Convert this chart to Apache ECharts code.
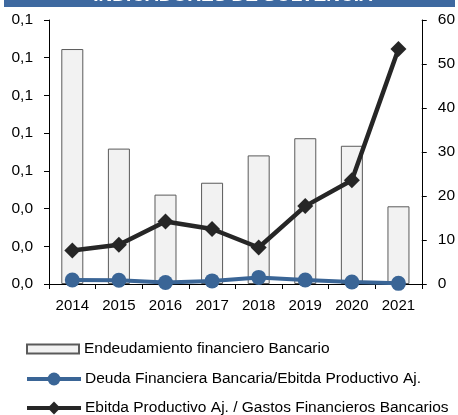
<!DOCTYPE html>
<html>
<head>
<meta charset="utf-8">
<script src="https://cdn.jsdelivr.net/npm/echarts@6/dist/echarts.min.js"></script>
<style>
html,body{margin:0;padding:0;background:#fff;}
#c{width:458px;height:415px;}
</style>
</head>
<body>
<div id="c"></div>
<script>
var titleText = "INDICADORES DE SOLVENCIA";
var years = ["2014","2015","2016","2017","2018","2019","2020","2021"];
var endeudamiento = [0.1246, 0.0718, 0.0474, 0.0537, 0.0682, 0.0773, 0.0733, 0.0412];
var deudaEbitda = [0.9, 0.85, 0.35, 0.7, 1.5, 0.9, 0.45, 0.15];
var ebitdaGastos = [7.6, 8.9, 14.2, 12.5, 8.3, 17.7, 23.6, 53.4];
var seriesNames = ["Endeudamiento financiero Bancario", "Deuda Financiera Bancaria/Ebitda Productivo Aj.", "Ebitda Productivo Aj. / Gastos Financieros Bancarios"];

var FONT = '"Liberation Sans", Arial, sans-serif';
var BLUE = '#3A6596';
var DARK = '#262626';

var chart = echarts.init(document.getElementById('c'), null, {renderer: 'canvas'});
function legendAt(name, left, top, w, h, gap, lineW, icon) {
  var l = {
    data: [name], left: left, top: top, itemWidth: w, itemHeight: h, itemGap: 4,
    selectedMode: false, padding: 0,
    textStyle: {fontFamily: FONT, fontSize: 15.5, color: '#000', padding: [0,0,0,gap - 5]}
  };
  if (lineW) { l.lineStyle = {width: lineW}; }
  if (icon) { l.icon = icon; }
  return l;
}
chart.setOption({
  animation: false,
  textStyle: {fontFamily: FONT},
  graphic: [
    {type: 'rect', shape: {x: 4, y: -20, width: 451, height: 27}, style: {fill: '#3E69A0'}, z: 10},
    {type: 'text', x: 233, y: -14, style: {text: titleText, fill: '#fff', font: 'bold 19px ' + FONT, textAlign: 'center', textVerticalAlign: 'top'}, z: 11}
  ],
  legend: [
    legendAt(seriesNames[0], 26, 341, 52, 9, 5, 0, 'rect'),
    legendAt(seriesNames[1], 25, 371, 54, 16, 4, 4, null),
    legendAt(seriesNames[2], 25, 400, 54, 16, 4, 4, null)
  ],
  grid: {left: 49, right: 35, top: 20, bottom: 131, containLabel: false},
  xAxis: {
    type: 'category', data: years, boundaryGap: true,
    axisLine: {lineStyle: {color: '#000', width: 1}},
    axisTick: {show: true, length: 5, lineStyle: {color: '#000'}},
    axisLabel: {color: '#000', fontSize: 15, fontFamily: FONT, margin: 14, interval: 0}
  },
  yAxis: [
    {
      type: 'value', min: 0, max: 0.14, interval: 0.02, position: 'left',
      splitLine: {show: false},
      axisLine: {show: true, lineStyle: {color: '#000'}},
      axisTick: {show: true, length: 5, lineStyle: {color: '#000'}},
      axisLabel: {color: '#000', fontSize: 15.5, fontFamily: FONT, margin: 16,
        formatter: function (v) { return v.toFixed(1).replace('.', ','); }}
    },
    {
      type: 'value', min: 0, max: 60, interval: 10, position: 'right',
      splitLine: {show: false},
      axisLine: {show: true, lineStyle: {color: '#000'}},
      axisTick: {show: true, length: 5, lineStyle: {color: '#000'}},
      axisLabel: {color: '#000', fontSize: 15.5, fontFamily: FONT, margin: 16}
    }
  ],
  series: [
    {
      name: seriesNames[0], type: 'bar', yAxisIndex: 0, data: endeudamiento,
      barWidth: 22,
      itemStyle: {color: '#F2F2F2', borderColor: '#5a5a5a', borderWidth: 1}
    },
    {
      name: seriesNames[1], type: 'line', yAxisIndex: 1, data: deudaEbitda,
      symbol: 'circle', symbolSize: 15,
      lineStyle: {color: BLUE, width: 4},
      itemStyle: {color: BLUE}, z: 3
    },
    {
      name: seriesNames[2], type: 'line', yAxisIndex: 1, data: ebitdaGastos,
      symbol: 'diamond', symbolSize: 16,
      lineStyle: {color: DARK, width: 4.5},
      itemStyle: {color: DARK}, z: 4
    }
  ]
});
</script>
</body>
</html>
